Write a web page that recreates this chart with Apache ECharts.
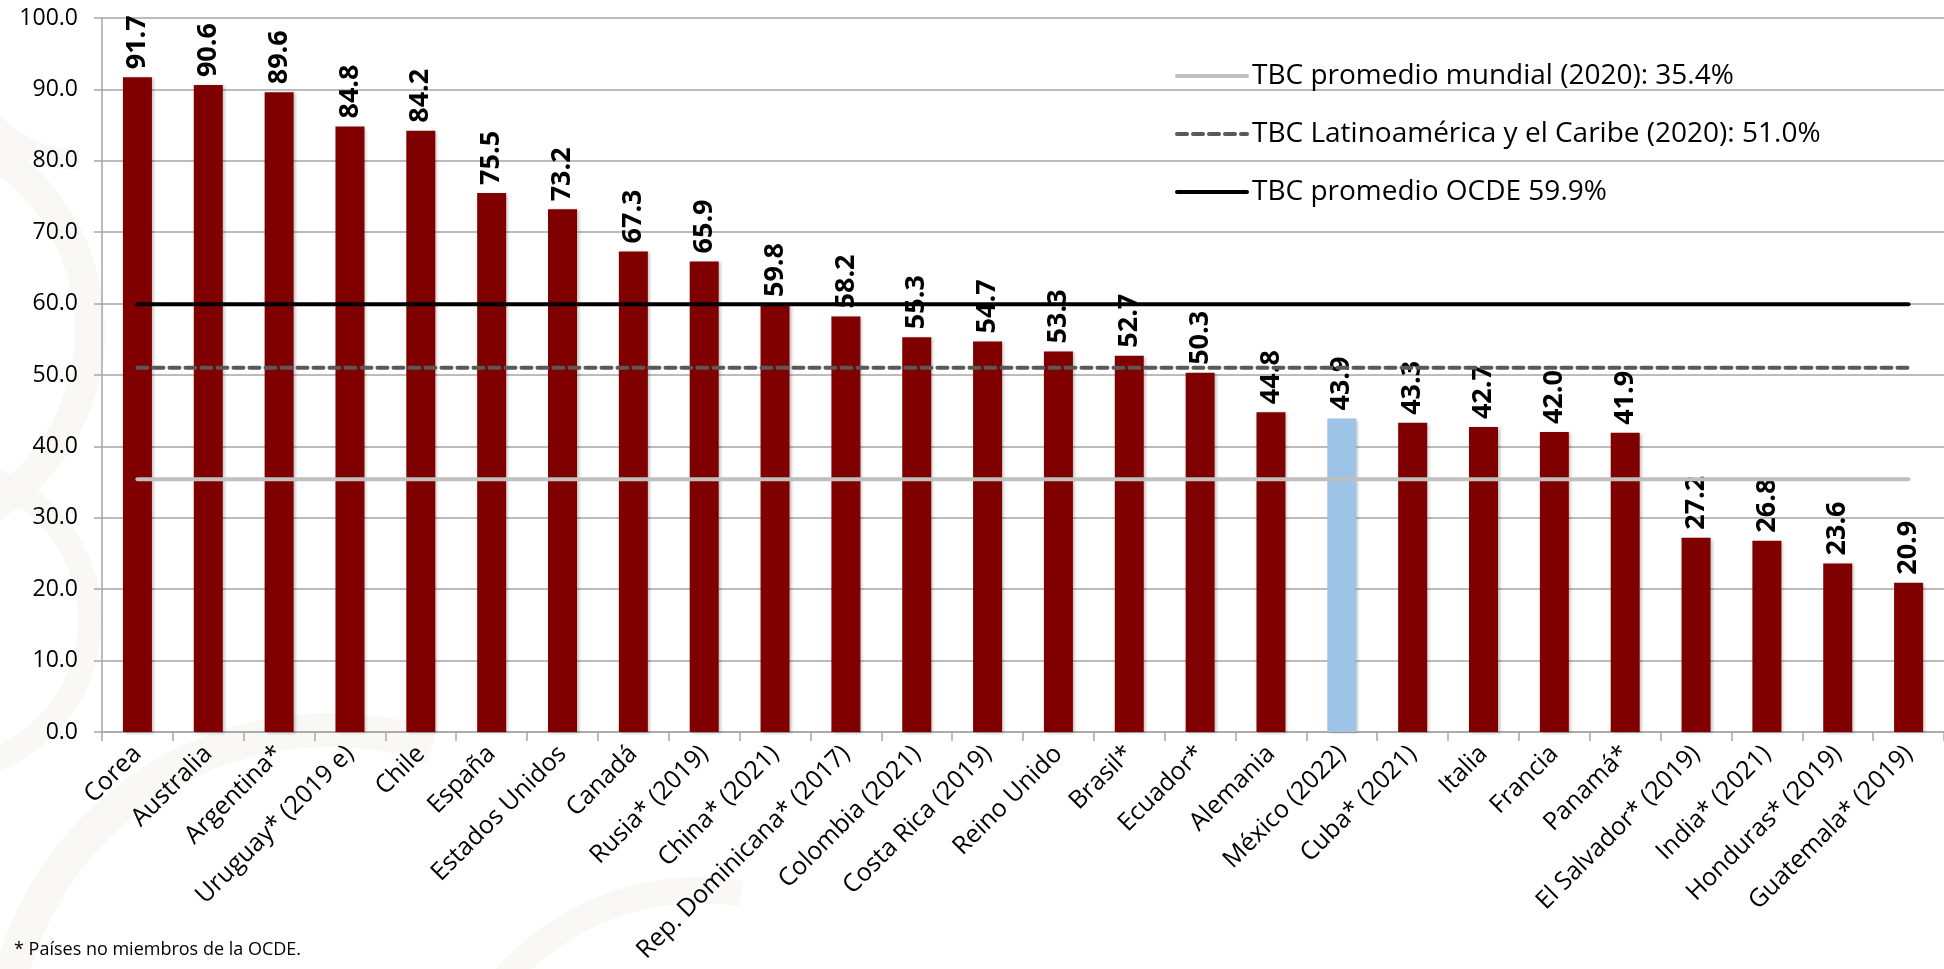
<!DOCTYPE html>
<html>
<head>
<meta charset="utf-8">
<script src="https://cdn.jsdelivr.net/npm/echarts@6.0.0/dist/echarts.min.js"></script>
<style>
  html, body { margin: 0; padding: 0; background: #ffffff; }
  #chart { width: 1944px; height: 969px; }
</style>
</head>
<body>
<div id="chart"></div>
<script>
// ---- data ----
const categories = ["Corea", "Australia", "Argentina*", "Uruguay* (2019 e)", "Chile", "España", "Estados Unidos", "Canadá", "Rusia* (2019)", "China* (2021)", "Rep. Dominicana* (2017)", "Colombia (2021)", "Costa Rica (2019)", "Reino Unido", "Brasil*", "Ecuador*", "Alemania", "México (2022)", "Cuba* (2021)", "Italia", "Francia", "Panamá*", "El Salvador* (2019)", "India* (2021)", "Honduras* (2019)", "Guatemala* (2019)"];
const values = [91.7, 90.6, 89.6, 84.8, 84.2, 75.5, 73.2, 67.3, 65.9, 59.8, 58.2, 55.3, 54.7, 53.3, 52.7, 50.3, 44.8, 43.9, 43.3, 42.7, 42.0, 41.9, 27.2, 26.8, 23.6, 20.9];
const highlightCategory = "México (2022)";
const refNames = ["TBC promedio mundial (2020): 35.4%", "TBC Latinoamérica y el Caribe (2020): 51.0%", "TBC promedio OCDE 59.9%"];
const refValues = [35.4, 51.0, 59.9];
const yTicks = { min: 0, max: 100, interval: 10 };
const footnote = "* Países no miembros de la OCDE.";

// ---- styles ----
const FONT = "Open Sans";
const barColor = "#800000";
const hiColor = "#9DC3E6";
const refStyles = [
  { color: "#BFBFBF", width: 4, type: "solid" },
  { color: "#595959", width: 4, type: [10, 6] },
  { color: "#000000", width: 4, type: "solid" }
];

const chart = echarts.init(document.getElementById("chart"), null, { renderer: "canvas" });

const first = categories[0], last = categories[categories.length - 1];
const refSeries = refNames.map((name, i) => ({
  name: name,
  type: "line",
  symbol: "none",
  silent: true,
  data: [[first, refValues[i]], [last, refValues[i]]],
  lineStyle: { color: refStyles[i].color, width: refStyles[i].width, type: refStyles[i].type, cap: "round" },
  itemStyle: { color: refStyles[i].color },
  z: 3
}));

// very faint decorative watermark (background ornament)
const wm = "#faf8f5";
const watermark = [
  { type: "circle", shape: { cx: -120, cy: 330, r: 210 }, style: { fill: "none", stroke: wm, lineWidth: 30 } },
  { type: "circle", shape: { cx: -60, cy: 620, r: 150 }, style: { fill: "none", stroke: wm, lineWidth: 24 } },
  { type: "arc", shape: { cx: 330, cy: 1060, r: 330, startAngle: Math.PI * 1.05, endAngle: Math.PI * 1.6 }, style: { fill: "none", stroke: wm, lineWidth: 34 } },
  { type: "arc", shape: { cx: 700, cy: 1150, r: 260, startAngle: Math.PI * 1.15, endAngle: Math.PI * 1.55 }, style: { fill: "none", stroke: wm, lineWidth: 26 } },
  { type: "arc", shape: { cx: 80, cy: 40, r: 120, startAngle: Math.PI * 0.5, endAngle: Math.PI * 1.3 }, style: { fill: "none", stroke: wm, lineWidth: 20 } }
].map(g => Object.assign(g, { silent: true, z: -10 }));

const option = {
  backgroundColor: "#ffffff",
  animation: false,
  textStyle: { fontFamily: FONT },
  grid: { left: 102, top: 18, width: 1854, height: 714, containLabel: false },
  legend: {
    orient: "vertical",
    left: 1170,
    top: 56,
    itemWidth: 70,
    itemHeight: 30,
    itemGap: 28,
    itemStyle: { color: "rgba(0,0,0,0)", borderColor: "rgba(0,0,0,0)", borderWidth: 0 },
    lineStyle: { width: 4 },
    textStyle: { fontFamily: FONT, fontSize: 28, lineHeight: 30, color: "#000" },
    data: refNames
  },
  xAxis: {
    type: "category",
    data: categories,
    boundaryGap: true,
    axisLine: { lineStyle: { color: "#A6A6A6", width: 1.5 } },
    axisTick: { show: true, alignWithLabel: false, length: 9, lineStyle: { color: "#A6A6A6", width: 1.5 } },
    axisLabel: { rotate: 45, interval: 0, margin: 18, fontFamily: FONT, fontSize: 25, color: "#000" },
    splitLine: { show: false }
  },
  yAxis: {
    type: "value",
    min: yTicks.min, max: yTicks.max, interval: yTicks.interval,
    axisLine: { show: true, lineStyle: { color: "#A6A6A6", width: 1.5 } },
    axisTick: { show: true, length: 8, lineStyle: { color: "#A6A6A6", width: 1.5 } },
    axisLabel: { margin: 24, fontFamily: FONT, fontSize: 23, color: "#000", formatter: v => v.toFixed(1) },
    splitLine: { show: true, lineStyle: { color: "#A6A6A6", width: 1.5 } }
  },
  series: [
    {
      type: "bar",
      barWidth: 29,
      data: values.map((v, i) => ({
        value: v,
        itemStyle: { color: categories[i] === highlightCategory ? hiColor : barColor }
      })),
      itemStyle: { shadowColor: "rgba(0,0,0,0.25)", shadowBlur: 3, shadowOffsetX: 2, shadowOffsetY: 1 },
      label: {
        show: true,
        position: "top",
        rotate: 90,
        align: "left",
        verticalAlign: "middle",
        distance: 8,
        fontFamily: FONT,
        fontWeight: "bold",
        fontSize: 27,
        color: "#000",
        formatter: p => Number(p.value).toFixed(1)
      },
      z: 2
    },
    ...refSeries
  ],
  graphic: watermark.concat([
    {
      type: "text",
      left: 14,
      top: 941,
      style: { text: footnote, fontFamily: FONT, fontSize: 18, fill: "#000" }
    }
  ])
};

chart.setOption(option);
</script>
</body>
</html>
